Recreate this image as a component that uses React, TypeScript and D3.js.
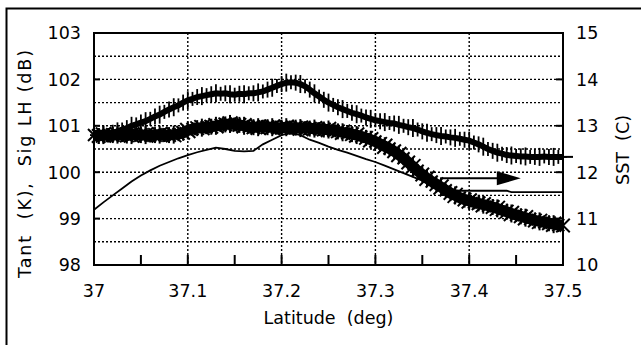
import * as d3 from "d3";

// latitude sample grid for the two marker series (deg)
const latGrid = d3.range(101).map((i) => 37 + i * 0.005);

// Tant (K) — "+" markers, left axis
const tantValues = [
  100.8, 100.78, 100.82, 100.8, 100.85, 100.88, 100.92, 100.95, 101.0, 101.03,
  101.07, 101.1, 101.15, 101.2, 101.24, 101.3, 101.35, 101.4, 101.44, 101.5,
  101.55, 101.58, 101.62, 101.64, 101.66, 101.68, 101.7, 101.69, 101.7, 101.68,
  101.67, 101.69, 101.68, 101.7, 101.7, 101.72, 101.74, 101.78, 101.82, 101.86,
  101.9, 101.93, 101.94, 101.93, 101.9, 101.85, 101.78, 101.7, 101.63, 101.56,
  101.5, 101.45, 101.4, 101.36, 101.32, 101.28, 101.25, 101.22, 101.18, 101.15,
  101.12, 101.1, 101.08, 101.06, 101.05, 101.02, 101.0, 100.97, 100.95, 100.92,
  100.88, 100.85, 100.82, 100.8, 100.78, 100.77, 100.75, 100.74, 100.72, 100.7,
  100.68, 100.64, 100.6, 100.55, 100.5, 100.46, 100.42, 100.4, 100.37, 100.36,
  100.35, 100.34, 100.34, 100.33, 100.33, 100.33, 100.34, 100.33, 100.33, 100.33,
  100.33,
];

// Sig LH (dB) — asterisk markers, left axis
const sigValues = [
  100.8, 100.78, 100.8, 100.79, 100.8, 100.81, 100.8, 100.79, 100.8, 100.81,
  100.8, 100.8, 100.79, 100.8, 100.81, 100.8, 100.8, 100.81, 100.82, 100.85,
  100.9, 100.93, 100.95, 100.96, 100.97, 100.98, 101.0, 101.02, 101.03, 101.04,
  101.03, 101.02, 101.0, 100.98, 100.97, 100.97, 100.98, 100.97, 100.97, 100.96,
  100.96, 100.97, 100.96, 100.96, 100.95, 100.95, 100.94, 100.94, 100.93, 100.92,
  100.92, 100.9, 100.88, 100.86, 100.84, 100.82, 100.8, 100.77, 100.74, 100.7,
  100.66, 100.61, 100.56, 100.51, 100.45, 100.38, 100.3, 100.21, 100.12, 100.03,
  99.95, 99.87, 99.8, 99.74, 99.68, 99.61, 99.55, 99.5, 99.45, 99.41,
  99.38, 99.35, 99.33, 99.3, 99.28, 99.25, 99.22, 99.18, 99.15, 99.11,
  99.08, 99.05, 99.02, 98.99, 98.96, 98.94, 98.92, 98.9, 98.88, 98.86,
  98.85,
];

// SST (C) — thin line, right axis
const sstLat = [
  37.0, 37.01, 37.02, 37.03, 37.04, 37.05, 37.06, 37.07, 37.08, 37.09, 37.1,
  37.11, 37.12, 37.13, 37.14, 37.15, 37.16, 37.17, 37.18, 37.19, 37.2, 37.21,
  37.22, 37.23, 37.24, 37.25, 37.26, 37.27, 37.28, 37.29, 37.3, 37.31, 37.32,
  37.33, 37.34, 37.35, 37.36, 37.37, 37.38, 37.39, 37.4, 37.44, 37.445, 37.5,
];
const sstValues = [
  11.19, 11.35, 11.5, 11.65, 11.8, 11.93, 12.04, 12.14, 12.22, 12.3, 12.37,
  12.43, 12.48, 12.53, 12.5, 12.46, 12.45, 12.46, 12.6, 12.7, 12.8, 12.85,
  12.8, 12.7, 12.63, 12.55, 12.48, 12.42, 12.35, 12.28, 12.22, 12.14, 12.06,
  11.98, 11.9, 11.82, 11.74, 11.66, 11.62, 11.6, 11.6, 11.6, 11.57, 11.57,
];

// arrow pointing to the SST axis
const arrowLat = [37.369, 37.455];
const arrowSst = 11.87;

const xTicks = [37, 37.1, 37.2, 37.3, 37.4, 37.5];
const xTickLabels = ["37", "37.1", "37.2", "37.3", "37.4", "37.5"];
const leftTicks = [98, 99, 100, 101, 102, 103];
const rightTicks = [10, 11, 12, 13, 14, 15];

const FONT = "'DejaVu Sans', sans-serif";

export default function App() {
  const x = d3.scaleLinear().domain([37, 37.5]).range([94, 563]);
  const yL = d3.scaleLinear().domain([98, 103]).range([265, 33]);
  const yR = d3.scaleLinear().domain([10, 15]).range([265, 33]);
  const [x0, x1] = x.range();
  const [yb, yt] = yL.range();

  const hGrid = d3.range(98.5, 103, 0.5);
  const minorX = d3.range(37.05, 37.5, 0.05);

  const markLine = d3
    .line<number>()
    .x((_, i) => x(latGrid[i]))
    .y((d) => yL(d));
  const sstLine = d3
    .line<number>()
    .x((_, i) => x(sstLat[i]))
    .y((d) => yR(d));

  const ay = yR(arrowSst);
  const ax0 = x(arrowLat[0]);
  const ax1 = x(arrowLat[1]);
  const lastTant = yL(tantValues[tantValues.length - 1]);

  return (
    <svg
      width={641}
      height={345}
      style={{ position: "absolute", left: 0, top: 0, background: "#fff" }}
      fontFamily={FONT}
    >
      <path d="M6.5,345V8.5H641" fill="none" stroke="#000" strokeWidth={2} />

      {/* grid */}
      <g stroke="#000" strokeWidth={1.4} strokeDasharray="2,2">
        {hGrid.map((v) => (
          <line key={"h" + v} x1={x0} x2={x1} y1={yL(v)} y2={yL(v)} />
        ))}
        {xTicks.slice(1, -1).map((v) => (
          <line key={"v" + v} x1={x(v)} x2={x(v)} y1={yt} y2={yb} />
        ))}
      </g>

      {/* ticks */}
      <g stroke="#000" strokeWidth={2}>
        {leftTicks.map((v) => (
          <line key={"l" + v} x1={x0} x2={x0 + 6} y1={yL(v)} y2={yL(v)} />
        ))}
        {rightTicks.map((v) => (
          <line key={"r" + v} x1={x1 - 7} x2={x1} y1={yR(v)} y2={yR(v)} />
        ))}
        {minorX.map((v) => (
          <line key={"b" + v} x1={x(v)} x2={x(v)} y1={yb} y2={yb - 10} />
        ))}
      </g>

      {/* Tant: + markers */}
      <path d={markLine(tantValues) ?? ""} fill="none" stroke="#000" strokeWidth={6} />
      <g stroke="#000" strokeWidth={1.8}>
        {tantValues.map((v, i) => {
          const cx = x(latGrid[i]);
          const cy = yL(v);
          const h = 7 + (i % 3);
          return (
            <g key={"t" + i}>
              <line x1={cx} x2={cx} y1={cy - h} y2={cy + h} />
              <line x1={cx - 4} x2={cx + 4} y1={cy} y2={cy} />
            </g>
          );
        })}
      </g>
      <line x1={x1 - 10} x2={x1 + 10} y1={lastTant} y2={lastTant} stroke="#000" strokeWidth={2} />

      {/* Sig LH: asterisk markers */}
      <path d={markLine(sigValues) ?? ""} fill="none" stroke="#000" strokeWidth={11} />
      <g stroke="#000" strokeWidth={2}>
        {sigValues.map((v, i) => {
          const cx = x(latGrid[i]);
          const cy = yL(v);
          const r = 8 + (i % 3);
          const d = r * 0.75;
          return (
            <g key={"s" + i}>
              <line x1={cx - d} x2={cx + d} y1={cy - d} y2={cy + d} />
              <line x1={cx - d} x2={cx + d} y1={cy + d} y2={cy - d} />
              <line x1={cx} x2={cx} y1={cy - r + 1} y2={cy + r - 1} />
            </g>
          );
        })}
      </g>

      {/* SST line */}
      <path d={sstLine(sstValues) ?? ""} fill="none" stroke="#000" strokeWidth={1.8} />

      {/* arrow */}
      <line x1={ax0} x2={ax1 - 20} y1={ay} y2={ay} stroke="#000" strokeWidth={2} />
      <path d={`M${ax1 - 24},${ay - 7}L${ax1},${ay}L${ax1 - 24},${ay + 7}Z`} fill="#000" />

      {/* plot frame */}
      <rect
        x={x0}
        y={yt}
        width={x1 - x0}
        height={yb - yt}
        fill="none"
        stroke="#000"
        strokeWidth={2}
      />

      {/* tick labels */}
      <g fontSize={17.5} fill="#000">
        {leftTicks.map((v) => (
          <text key={"lt" + v} x={81} y={yL(v)} dy="0.36em" textAnchor="end">
            {v}
          </text>
        ))}
        {rightTicks.map((v) => (
          <text key={"rt" + v} x={576} y={yR(v)} dy="0.36em">
            {v}
          </text>
        ))}
        {xTicks.map((v, i) => (
          <text key={"xt" + v} x={x(v)} y={297} textAnchor="middle">
            {xTickLabels[i]}
          </text>
        ))}
      </g>

      {/* axis titles */}
      <g fontSize={17.5} fill="#000">
        <text x={(x0 + x1) / 2} y={324} textAnchor="middle">
          Latitude&#160;&#160;(deg)
        </text>
        <text
          transform="translate(31,164) rotate(-90)"
          textAnchor="middle"
          textLength={228}
          lengthAdjust="spacing"
        >
          Tant&#160;&#160;(K),&#160;&#160;Sig LH (dB)
        </text>
        <text transform="translate(629,150) rotate(-90)" textAnchor="middle">
          SST&#160;&#160;(C)
        </text>
      </g>
    </svg>
  );
}
